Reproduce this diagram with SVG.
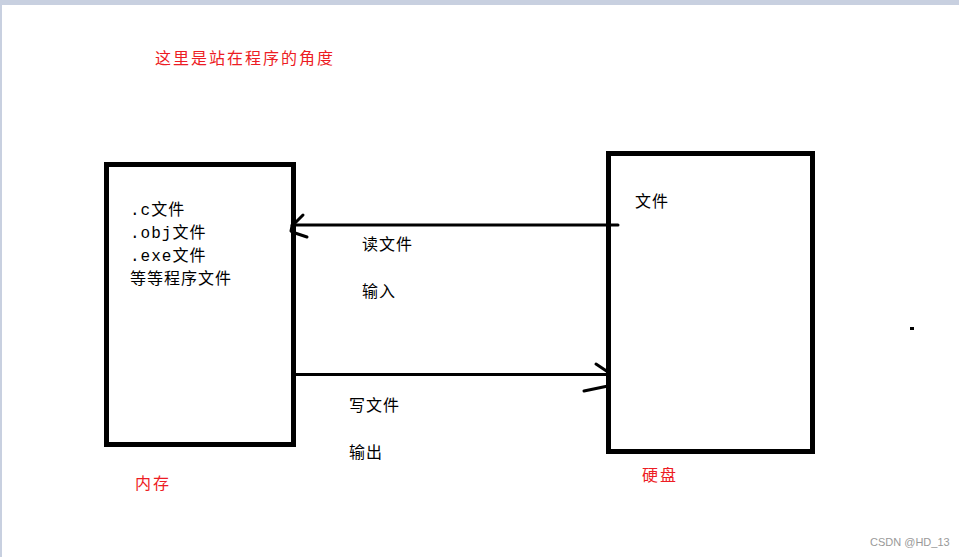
<svg xmlns="http://www.w3.org/2000/svg" width="959" height="557" viewBox="0 0 959 557">
<style>
.t{font-family:"Liberation Mono","Noto Sans CJK SC",monospace;font-size:16px;fill:#000;letter-spacing:1px}
.r{font-family:"Noto Sans CJK SC",sans-serif;font-size:16px;fill:#ed1c24;letter-spacing:2px}
.box{fill:none;stroke:#000;stroke-width:5}
.ln{fill:none;stroke:#000;stroke-width:3;stroke-linecap:round;stroke-linejoin:round}
</style>
<rect x="0" y="0" width="959" height="557" fill="#fff"/>
<rect x="0" y="0" width="959" height="5" fill="#c8d0e0"/>
<rect x="0" y="0" width="2" height="557" fill="#c8d0e0"/>
<text class="r" x="155" y="64">这里是站在程序的角度</text>
<g id="memory">
<rect class="box" x="106.5" y="164.5" width="187" height="280"/>
<text class="t" x="130" y="215">.c文件</text>
<text class="t" x="130" y="238">.obj文件</text>
<text class="t" x="130" y="261">.exe文件</text>
<text class="t" x="130" y="284">等等程序文件</text>
<text class="r" x="135" y="489">内存</text>
</g>
<g id="disk">
<rect class="box" x="608.5" y="153.5" width="204" height="298"/>
<text class="t" x="635" y="207">文件</text>
<text class="r" x="642" y="481">硬盘</text>
</g>
<g id="connectors">
<line class="ln" x1="292" y1="225" x2="618" y2="225"/>
<path class="ln" d="M303,215 L292,226 L291,231 L292,232 L307,237"/>
<line class="ln" x1="296" y1="374.5" x2="608" y2="374.5"/>
<path class="ln" d="M596,364 L608,372 M584,391 L608,386"/>
</g>
<g id="labels">
<text class="t" x="362" y="250">读文件</text>
<text class="t" x="362" y="297">输入</text>
<text class="t" x="349" y="411">写文件</text>
<text class="t" x="349" y="458">输出</text>
</g>
<rect x="910" y="327" width="4" height="3" fill="#000"/>
<text x="870" y="546" font-family="Liberation Sans, sans-serif" font-size="11" fill="#999">CSDN @HD_13</text>
</svg>
